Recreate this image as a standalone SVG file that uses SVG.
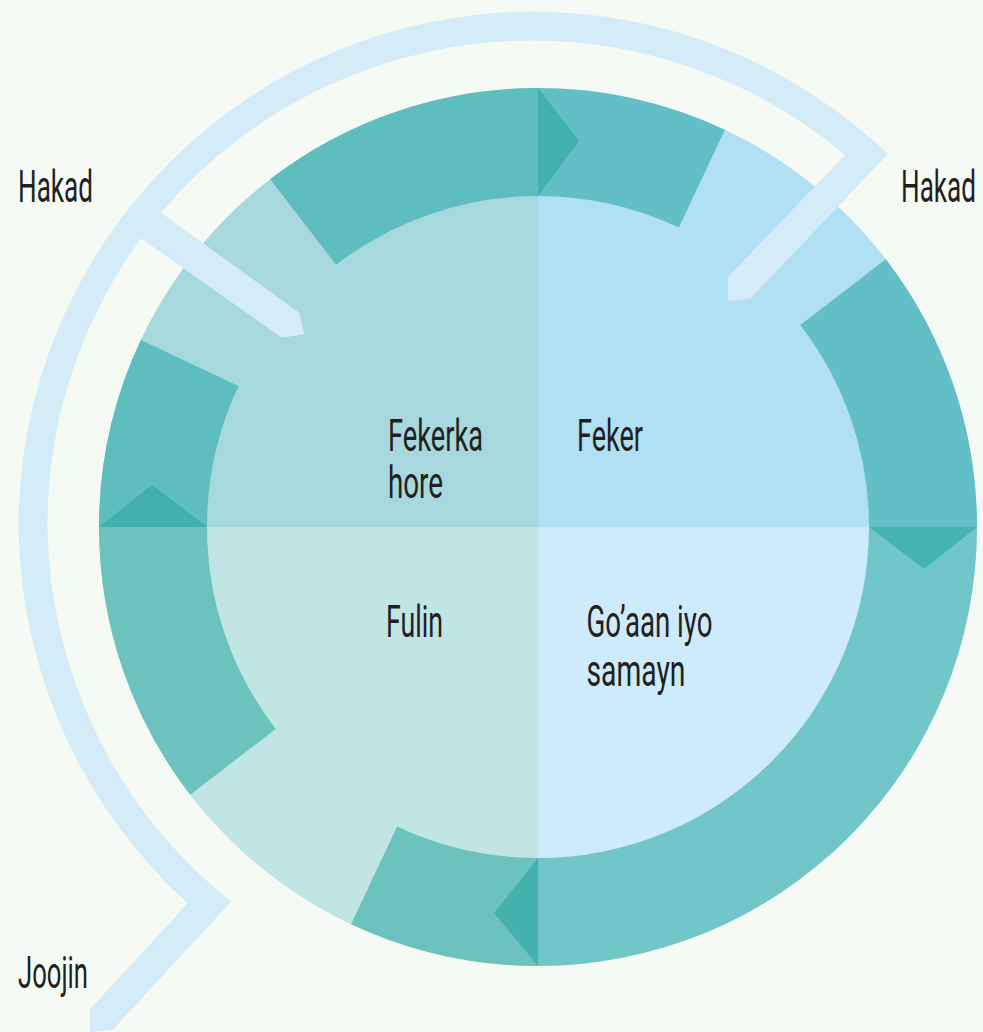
<svg xmlns="http://www.w3.org/2000/svg" width="983" height="1032" viewBox="0 0 983 1032">
<style>
.lbl{font-family:Roboto,"Liberation Sans",sans-serif;font-size:45px;fill:#231f20;}
.tri{stroke:none;}
</style>
<rect x="0" y="0" width="983" height="1032" fill="#f6faf5"/>
<g id="node-fekerka-hore">
  <path d="M538,527 L538,88 A439,439 0 0 0 99,527 Z" fill="#a6d8de"/>
  <path d="M538,88 A439,439 0 0 0 270.2,179.2 L336.1,264.7 A331,331 0 0 1 538,196 Z" fill="#5ebdbd"/>
  <path d="M140.8,340.1 A439,439 0 0 0 99,527 L207,527 A331,331 0 0 1 238.5,386.1 Z" fill="#5ebdbd"/>
</g>
<g id="node-feker">
  <path d="M538,527 L977,527 A439,439 0 0 0 538,88 Z" fill="#b1dff3"/>
  <path d="M977,527 A439,439 0 0 0 885.8,259.2 L800.3,325.1 A331,331 0 0 1 869,527 Z" fill="#62bfc7"/>
  <path d="M724.9,129.8 A439,439 0 0 0 538,88 L538,196 A331,331 0 0 1 678.9,227.5 Z" fill="#62bfc7"/>
</g>
<g id="node-fulin">
  <path d="M538,527 L99,527 A439,439 0 0 0 538,966 Z" fill="#c1e4e4"/>
  <path d="M99,527 A439,439 0 0 0 190.2,794.8 L275.7,728.9 A331,331 0 0 1 207,527 Z" fill="#6cc3bd"/>
  <path d="M351.1,924.2 A439,439 0 0 0 538,966 L538,858 A331,331 0 0 1 397.1,826.5 Z" fill="#6cc3bd"/>
</g>
<g id="node-goaan">
  <path d="M538,527 L538,966 A439,439 0 0 0 977,527 Z" fill="#ceebfb"/>
  <path d="M538,966 A439,439 0 0 0 977,527 L869,527 A331,331 0 0 1 538,858 Z" fill="#71c6c8"/>
</g>
<g id="connectors">
  <path class="tri" d="M538,88 L538,196 L579,141 Z" fill="#41b1ad"/>
  <path class="tri" d="M869,527 L977,527 L924,569 Z" fill="#45b3b0"/>
  <path class="tri" d="M538,858 L538,966 L494,913 Z" fill="#44b2ab"/>
  <path class="tri" d="M99,527 L207,527 L152,485 Z" fill="#40b0a9"/>
  <path id="loop" fill="#d4ecf8" d="M90,1009.3 L187.7,903.3 A515.5,515.5 0 0 1 18.5,527 A515.5,515.5 0 0 1 534,11.5 A515.5,515.5 0 0 1 888,154 L750,299 L727.7,301 L727.7,277.3 L845,155 A486.5,486.5 0 0 0 534,40.5 A486.5,486.5 0 0 0 161,212.7 L299.3,312.7 L304.3,334.3 L281.7,337.7 L141,238.3 A486.5,486.5 0 0 0 47.5,527 A486.5,486.5 0 0 0 231,901.7 L112.5,1030 L90,1032 Z"/>
</g>
<g id="texts">
  <text class="lbl"><tspan x="388" y="450.7" textLength="95" lengthAdjust="spacingAndGlyphs">Fekerka</tspan><tspan x="388" y="498.3" textLength="55" lengthAdjust="spacingAndGlyphs">hore</tspan></text>
  <text class="lbl" x="577" y="450.7" textLength="66" lengthAdjust="spacingAndGlyphs">Feker</text>
  <text class="lbl" x="386" y="637.4" textLength="57" lengthAdjust="spacingAndGlyphs">Fulin</text>
  <text class="lbl"><tspan x="586.5" y="637.4" textLength="126" lengthAdjust="spacingAndGlyphs">Go’aan iyo</tspan><tspan x="586.5" y="686" textLength="99" lengthAdjust="spacingAndGlyphs">samayn</tspan></text>
</g>
<g id="labels">
  <text class="lbl" x="18" y="201.7" textLength="75" lengthAdjust="spacingAndGlyphs">Hakad</text>
  <text class="lbl" x="901" y="201.7" textLength="75" lengthAdjust="spacingAndGlyphs">Hakad</text>
  <text class="lbl" x="18" y="987.5" textLength="70" lengthAdjust="spacingAndGlyphs">Joojin</text>
</g>
</svg>
